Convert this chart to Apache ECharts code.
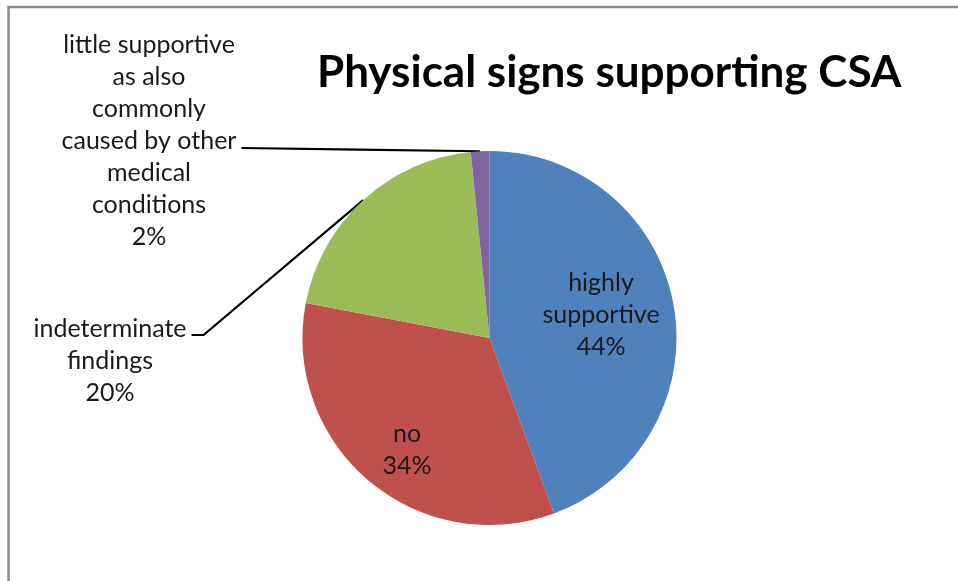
<!DOCTYPE html>
<html>
<head>
<meta charset="utf-8">
<script src="https://cdn.jsdelivr.net/npm/echarts@6/dist/echarts.min.js"></script>
<style>
html,body{margin:0;padding:0;background:#fff;}
#chart{width:958px;height:581px;}
</style>
</head>
<body>
<div id="chart"></div>
<script>
const titleText = 'Physical signs supporting CSA';
const categories = [
  'highly\nsupportive',
  'no',
  'indeterminate\nfindings',
  'little supportive\nas also\ncommonly\ncaused by other\nmedical\nconditions'
];
const values = [44.4, 33.6, 20.4, 1.6];
const colors = ['#4F81BD', '#C0504D', '#9BBB59', '#8064A2'];

// label anchor positions (layout only)
const labelPos = [[601, 315], [407, 450], [110, 361], [149, 141]];

const chart = echarts.init(document.getElementById('chart'));
const FONT = 'Lato';

chart.setOption({
  animation: false,
  backgroundColor: '#fff',
  title: {
    text: titleText,
    left: 312,
    top: 46,
    textStyle: { fontFamily: FONT, fontWeight: 'bold', fontSize: 44, color: '#000' }
  },
  graphic: [{
    type: 'rect',
    shape: { x: 8.5, y: 7, width: 1000, height: 700 },
    style: { fill: 'none', stroke: '#8c8c8c', lineWidth: 2.5 },
    silent: true
  }],
  series: [{
    type: 'pie',
    center: [489.5, 338],
    radius: 187,
    startAngle: 90,
    clockwise: true,
    percentPrecision: 0,
    avoidLabelOverlap: false,
    emphasis: { disabled: true },
    itemStyle: { borderWidth: 0 },
    label: {
      show: true,
      position: 'outside',
      formatter: '{b}\n{d}%',
      fontFamily: FONT,
      fontSize: 25,
      lineHeight: 32,
      color: '#1a1a1a',
      align: 'center'
    },
    labelLine: {
      show: true,
      length: 15,
      length2: 15,
      lineStyle: { color: '#000', width: 2.2 }
    },
    labelLayout: function (p) {
      const i = p.dataIndex;
      const pos = labelPos[i];
      const out = { x: pos[0], y: pos[1], align: 'center', verticalAlign: 'middle' };
      const w = p.labelRect.width, h = p.labelRect.height;
      if (i === 2 && p.labelLinePoints) {
        const arc = p.labelLinePoints[0];
        const right = pos[0] + w / 2;
        const ly = pos[1] - h / 2 + 16 + 6;
        out.labelLinePoints = [arc, [right + 17, ly], [right + 5, ly]];
      } else if (i === 3 && p.labelLinePoints) {
        const arc = p.labelLinePoints[0];
        const right = pos[0] + w / 2;
        const ly = pos[1] + 7;
        out.labelLinePoints = [arc, [(arc[0] + right) / 2, (arc[1] + ly) / 2], [right + 5, ly]];
      }
      return out;
    },
    data: categories.map(function (c, i) {
      const item = { name: c, value: values[i], itemStyle: { color: colors[i] } };
      if (i < 2) {
        item.label = { position: 'inside' };
        item.labelLine = { show: false };
      }
      return item;
    })
  }]
});
</script>
</body>
</html>
